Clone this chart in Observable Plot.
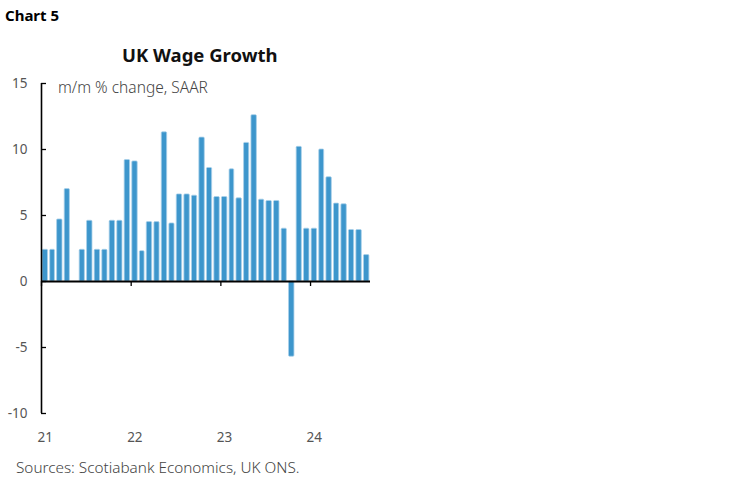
<!DOCTYPE html>
<html>
<head>
<meta charset="utf-8">
<script src="https://cdn.jsdelivr.net/npm/d3@7"></script>
<script src="https://cdn.jsdelivr.net/npm/@observablehq/plot@0.6"></script>
<style>
  html, body { margin: 0; padding: 0; background: #fff; }
  #wrap { position: relative; width: 748px; height: 483px; font-family: "Noto Sans", sans-serif; overflow: hidden; }
  #wrap svg { position: absolute; left: 0; top: 0; }
  .lbl { position: absolute; white-space: nowrap; }
  #chartno { left: 5px; top: 5px; font-size: 15px; font-weight: bold; color: #000; }
  #title { left: 122px; top: 42px; font-size: 18.5px; font-weight: bold; color: #111; }
  #sub { left: 58px; top: 76px; font-size: 15.5px; color: #444; font-weight: 300; }
  #src { left: 16px; top: 457px; font-size: 15.3px; color: #444; font-weight: 300; }
</style>
</head>
<body>
<div id="wrap">
  <div class="lbl" id="chartno">Chart 5</div>
  <div class="lbl" id="title">UK Wage Growth</div>
  <div class="lbl" id="sub">m/m % change, SAAR</div>
  <div class="lbl" id="src">Sources: Scotiabank Economics, UK ONS.</div>
</div>
<script>
// Monthly values, Jan 2021 – Aug 2024 (m/m % change, SAAR); null = no bar
const startYear = 2021;
const values = [
  2.4, 2.4, 4.7, 7.0, null, 2.4, 4.6, 2.4, 2.4, 4.6, 4.6, 9.2,
  9.1, 2.3, 4.5, 4.5, 11.3, 4.4, 6.6, 6.6, 6.5, 10.9, 8.6, 6.4,
  6.4, 8.5, 6.3, 10.5, 12.6, 6.2, 6.1, 6.1, 4.0, -5.7, 10.2, 4.0,
  4.0, 10.0, 7.9, 5.9, 5.85, 3.9, 3.9, 2.0
];
const yTicks = [-10, -5, 0, 5, 10, 15];
const yearLabels = ["21", "22", "23", "24"];

const data = values.map((v, i) => ({
  start: new Date(startYear, i, 1),
  end: new Date(startYear, i + 1, 1),
  value: v
})).filter(d => d.value !== null);

const years = yearLabels.map((s, i) => ({ label: s, date: new Date(startYear + i, 0, 1), mid: new Date(startYear + i, 0, 16) }));
const x0 = new Date(startYear, 0, 1);
const x1 = new Date(startYear, values.length, 1);

const chart = Plot.plot({
  width: 748,
  height: 483,
  marginLeft: 41,
  marginRight: 378,
  marginTop: 83,
  marginBottom: 70,
  style: { fontFamily: "Noto Sans, sans-serif", background: "transparent" },
  x: { type: "utc", domain: [x0, x1], axis: null },
  y: { domain: [-10, 15], axis: null },
  marks: [
    Plot.rectY(data, {
      x1: "start", x2: "end", y1: 0, y2: "value",
      fill: "#3d96cc", stroke: "#a9d0ea", strokeWidth: 0.8,
      insetLeft: 1.1, insetRight: 1.1, rx: 1
    }),
    Plot.ruleY([0], { x1: x0, x2: x1, stroke: "#000", strokeWidth: 2 }),
    Plot.ruleX(years, { x: "date", y1: 0, y2: 0, insetBottom: -5, stroke: "#000", strokeWidth: 1.3 }),
    Plot.ruleX([x0], { y1: -10, y2: 15, stroke: "#000", strokeWidth: 1.6 }),
    Plot.ruleY(yTicks, { x1: x0, x2: x0, insetRight: -5, stroke: "#000", strokeWidth: 1.3 }),
    Plot.text(yTicks, { x: x0, y: d => d, text: d => String(d), textAnchor: "end", dx: -14, fontSize: 13.5, fill: "#555" }),
    Plot.text(years, { x: "mid", y: -10, text: "label", dy: 24, fontSize: 13.5, fill: "#555" })
  ]
});
document.getElementById("wrap").prepend(chart);
</script>
</body>
</html>
